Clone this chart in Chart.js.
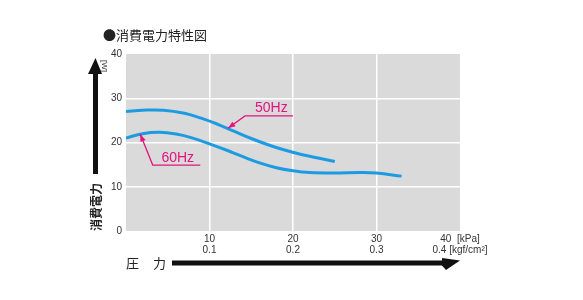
<!DOCTYPE html>
<html>
<head>
<meta charset="utf-8">
<script src="https://cdn.jsdelivr.net/npm/chart.js@4"></script>
<style>
  body { margin: 0; background: #fff; }
  #wrap { width: 583px; height: 300px; }
</style>
</head>
<body>
<div id="wrap"><canvas id="chart"></canvas></div>
<script>
// data (x: kPa, y: W)
const pressure50 = [0, 2, 4.5, 7, 9, 11, 13, 15, 17, 19, 21, 23, 25];
const power50 = [27.0, 27.3, 27.3, 26.6, 25.5, 24.1, 22.5, 20.9, 19.5, 18.3, 17.3, 16.5, 15.7];
const pressure60 = [0, 2, 4, 6, 8, 10, 12, 14, 16, 18, 20, 22, 25, 28, 30, 33];
const power60 = [21.0, 22.0, 22.3, 21.9, 21.0, 19.7, 18.3, 16.8, 15.4, 14.3, 13.6, 13.2, 13.1, 13.2, 13.1, 12.4];
const kpaTicks = [10, 20, 30, 40];
const kgfTicks = ["0.1", "0.2", "0.3", "0.4"];
const seriesNames = ["50Hz", "60Hz"];

const blue = "#1d9be2";
const pink = "#e2147d";

function toPoints(xs, ys) {
  return xs.map((x, i) => ({ x: x, y: ys[i] }));
}

// callout: tip on the curve, knee, end of underline, label spot (data units)
const callouts = [
  { text: seriesNames[0], tip: [12.2, 23.2], knee: [14.25, 26.0], end: 20.0, label: [17.4, 27.8] },
  { text: seriesNames[1], tip: [1.7, 21.9], knee: [3.2, 14.9], end: 8.9, label: [6.2, 16.4] }
];

const decor = {
  id: "decor",
  beforeDraw(chart) {
    const a = chart.chartArea;
    const c = chart.ctx;
    c.save();
    c.fillStyle = "#dadada";
    c.fillRect(a.left, a.top, a.right - a.left, a.bottom - a.top);
    c.restore();
  },
  afterDraw(chart) {
    const a = chart.chartArea;
    const c = chart.ctx;
    const xs = chart.scales.x, ys = chart.scales.y;
    c.save();

    // title
    c.fillStyle = "#222";
    c.font = "13px 'Noto Sans CJK JP'";
    c.textBaseline = "middle";
    c.textAlign = "left";
    c.fillText("●消費電力特性図", a.left - 23, a.top - 19);

    // [W] unit, rotated
    c.save();
    c.translate(a.left - 22, a.top + 12);
    c.rotate(Math.PI / 2);
    c.font = "8px 'Liberation Sans'";
    c.fillStyle = "#333";
    c.textAlign = "center";
    c.fillText("[W]", 0, 0);
    c.restore();

    // vertical arrow
    c.fillStyle = "#111";
    c.fillRect(a.left - 33, a.top + 18, 5, 102);
    c.beginPath();
    c.moveTo(a.left - 30.5, a.top + 4);
    c.lineTo(a.left - 38, a.top + 20);
    c.lineTo(a.left - 24, a.top + 20);
    c.closePath();
    c.fill();

    // vertical label
    c.save();
    c.translate(a.left - 30, a.top + 153);
    c.rotate(-Math.PI / 2);
    c.font = "bold 12px 'Noto Sans CJK JP'";
    c.fillStyle = "#222";
    c.textAlign = "center";
    c.fillText("消費電力", 0, 0);
    c.restore();

    // horizontal arrow + label
    c.font = "13px 'Noto Sans CJK JP'";
    c.fillStyle = "#222";
    c.textAlign = "left";
    c.fillText("圧", a.left, a.bottom + 32);
    c.fillText("力", a.left + 27, a.bottom + 32);
    c.fillStyle = "#111";
    c.fillRect(a.left + 46, a.bottom + 29.5, a.right - a.left - 60, 5);
    c.beginPath();
    c.moveTo(a.right - 18, a.bottom + 27);
    c.lineTo(a.right, a.bottom + 29.5);
    c.lineTo(a.right - 14, a.bottom + 39);
    c.lineTo(a.right - 18, a.bottom + 34.5);
    c.closePath();
    c.fill();

    // callouts
    c.strokeStyle = pink;
    c.fillStyle = pink;
    c.lineWidth = 1.3;
    callouts.forEach(o => {
      const tx = xs.getPixelForValue(o.tip[0]), ty = ys.getPixelForValue(o.tip[1]);
      const kx = xs.getPixelForValue(o.knee[0]), ky = ys.getPixelForValue(o.knee[1]);
      const ex = xs.getPixelForValue(o.end);
      c.beginPath();
      c.moveTo(ex, ky);
      c.lineTo(kx, ky);
      c.lineTo(tx, ty);
      c.stroke();
      const ang = Math.atan2(ty - ky, tx - kx);
      c.beginPath();
      c.moveTo(tx, ty);
      c.lineTo(tx - 8 * Math.cos(ang - 0.35), ty - 8 * Math.sin(ang - 0.35));
      c.lineTo(tx - 8 * Math.cos(ang + 0.35), ty - 8 * Math.sin(ang + 0.35));
      c.closePath();
      c.fill();
      c.font = "14px 'Liberation Sans'";
      c.textAlign = "center";
      c.textBaseline = "middle";
      c.fillText(o.text, xs.getPixelForValue(o.label[0]), ys.getPixelForValue(o.label[1]));
    });

    c.restore();
  }
};

const gridColor = ctx => (ctx.tick.value > 0 && ctx.tick.value < 40) ? "#ffffff" : "rgba(0,0,0,0)";

new Chart(document.getElementById("chart"), {
  type: "line",
  data: {
    datasets: [
      { label: seriesNames[0], data: toPoints(pressure50, power50) },
      { label: seriesNames[1], data: toPoints(pressure60, power60) }
    ]
  },
  options: {
    responsive: true,
    maintainAspectRatio: false,
    animation: false,
    layout: { padding: { left: 0, right: 123, top: 54, bottom: 0 } },
    elements: {
      line: { borderColor: blue, borderWidth: 3, tension: 0.4, capBezierPoints: true },
      point: { radius: 0 }
    },
    plugins: {
      legend: { display: false },
      tooltip: { enabled: false }
    },
    scales: {
      x: {
        type: "linear",
        min: 0,
        max: 40,
        afterFit(s) { s.height = 69; },
        afterBuildTicks(s) { s.ticks = [0].concat(kpaTicks).map(v => ({ value: v })); },
        border: { display: false },
        grid: { color: gridColor, lineWidth: 1.5, drawTicks: false },
        ticks: {
          padding: 3,
          color: "#333",
          font: { family: "Liberation Sans", size: 10, lineHeight: 1.1 },
          maxRotation: 0,
          callback(v) {
            const i = kpaTicks.indexOf(v);
            if (i < 0) return "";
            if (v === 40) return [v + "  [kPa]", kgfTicks[i] + " [kgf/cm²]"];
            return [String(v), kgfTicks[i]];
          }
        }
      },
      y: {
        min: 0,
        max: 40,
        afterFit(s) { s.width = 126; },
        border: { display: false },
        grid: { color: gridColor, lineWidth: 1.5, drawTicks: false },
        ticks: {
          stepSize: 10,
          padding: 4,
          color: "#333",
          font: { family: "Liberation Sans", size: 10 }
        }
      }
    }
  },
  plugins: [decor]
});
</script>
</body>
</html>
